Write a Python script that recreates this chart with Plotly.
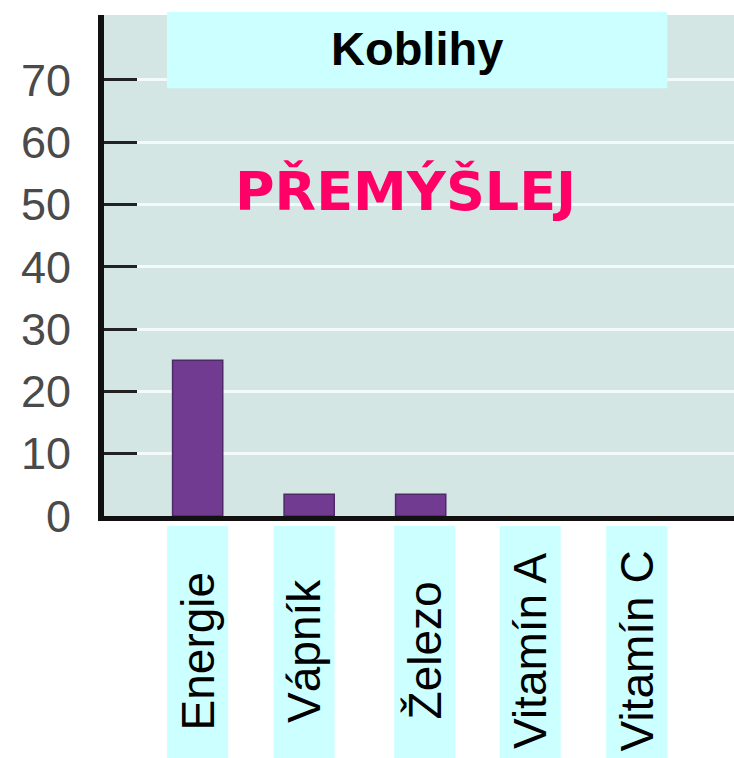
import plotly.graph_objects as go

categories = ["Energie", "Vápník", "Železo", "Vitamín A", "Vitamín C"]
values = [25, 3.5, 3.5, 0, 0]
y_ticks = [0, 10, 20, 30, 40, 50, 60, 70]
title_text = "Koblihy"
overlay_text = "PŘEMÝŠLEJ"

# small styling offsets (px) of the label boxes relative to category centres
label_shift = [0, -5, 4, -2, -7]

fig = go.Figure()
fig.add_trace(go.Bar(
    x=categories, y=values, width=0.45,
    marker=dict(color="#723b92",
                line=dict(color="#4e2a66", width=[1.5 if v > 0 else 0 for v in values])),
    showlegend=False,
))

shapes = []
annotations = []
for i, (cat, sh) in enumerate(zip(categories, label_shift)):
    shapes.append(dict(
        type="rect", xref="x", yref="paper", xsizemode="pixel", xanchor=i,
        x0=-30.5 + sh, x1=30.5 + sh, y0=-0.52, y1=-0.02,
        fillcolor="#ccffff", line=dict(width=0), layer="above",
    ))
    annotations.append(dict(
        text=cat, xref="x", yref="paper", x=cat, y=-0.269, xshift=sh,
        xanchor="center", yanchor="middle", textangle=-90, showarrow=False,
        font=dict(family="Liberation Sans, Arial", size=46, color="#000000"),
    ))

# title box
shapes.append(dict(
    type="rect", xref="paper", yref="paper", x0=0.1, x1=0.894, y0=0.854, y1=1.006,
    fillcolor="#ccffff", line=dict(width=0), layer="above",
))
annotations.append(dict(
    text="<b>" + title_text + "</b>", xref="paper", yref="paper", x=0.497, y=0.934,
    xanchor="center", yanchor="middle", showarrow=False,
    font=dict(family="Liberation Sans, Arial", size=47, color="#000000"),
))
annotations.append(dict(
    text="<b>" + overlay_text + "</b>", xref="paper", yref="paper", x=0.478, y=0.647,
    xanchor="center", yanchor="middle", showarrow=False,
    font=dict(family="DejaVu Sans", size=54, color="#ff0066"),
))

fig.update_layout(
    width=734, height=758,
    margin=dict(l=104, r=0, t=15, b=242),
    paper_bgcolor="#ffffff", plot_bgcolor="#d4e6e4",
    shapes=shapes, annotations=annotations,
    xaxis=dict(
        type="category", range=[-0.84, 4.81], showticklabels=False, ticks="",
        showgrid=False, zeroline=False,
        showline=True, linecolor="#111111", linewidth=5,
    ),
    yaxis=dict(
        range=[0, 80.4], tickvals=y_ticks, ticks="inside", ticklen=33,
        tickwidth=2.5, tickcolor="#222222",
        showgrid=True, gridcolor="#f2fafa", gridwidth=3,
        zeroline=False, showline=True, linecolor="#111111", linewidth=6,
        tickfont=dict(family="Liberation Sans, Arial", size=45, color="#4a4a4a"),
        ticklabelstandoff=18,
    ),
)

fig.write_html("out.html", config={"displayModeBar": False},
               post_script="document.body.style.margin='0';document.body.style.overflow='hidden';")
